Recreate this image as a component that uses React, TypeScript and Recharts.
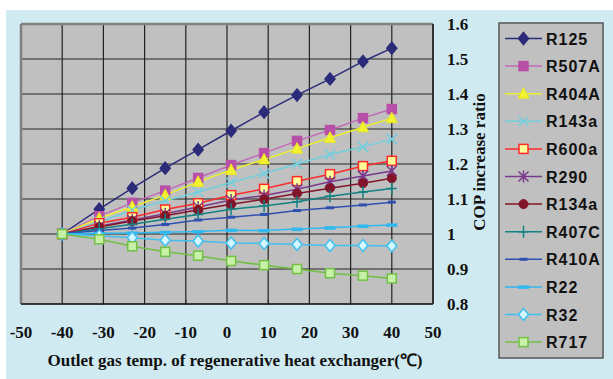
import React from "react"
import {
  LineChart,
  Line,
  XAxis,
  YAxis,
  CartesianGrid,
  ReferenceLine,
  Legend,
} from "recharts"

// outlet gas temp (°C)
const temps = [-40, -31, -23, -15, -7, 1, 9, 17, 25, 33, 40]

const r125 = [1, 1.071, 1.131, 1.188, 1.241, 1.295, 1.348, 1.397, 1.443, 1.493, 1.531]
const r507a = [1, 1.051, 1.089, 1.124, 1.16, 1.197, 1.231, 1.266, 1.297, 1.331, 1.357]
const r404a = [1, 1.045, 1.078, 1.111, 1.149, 1.183, 1.213, 1.244, 1.275, 1.305, 1.331]
const r143a = [1, 1.035, 1.068, 1.095, 1.12, 1.147, 1.173, 1.2, 1.227, 1.249, 1.271]
const r600a = [1, 1.031, 1.048, 1.07, 1.088, 1.111, 1.129, 1.151, 1.171, 1.194, 1.209]
const r290 = [1, 1.022, 1.04, 1.058, 1.077, 1.097, 1.11, 1.128, 1.149, 1.166, 1.18]
const r134a = [1, 1.02, 1.037, 1.052, 1.069, 1.085, 1.099, 1.116, 1.131, 1.145, 1.159]
const r407c = [1, 1.015, 1.028, 1.042, 1.056, 1.071, 1.08, 1.092, 1.108, 1.12, 1.13]
const r410a = [1, 1.01, 1.017, 1.027, 1.04, 1.048, 1.056, 1.067, 1.075, 1.083, 1.091]
const r22 = [1, 1.002, 1.003, 1.005, 1.007, 1.011, 1.01, 1.014, 1.018, 1.023, 1.026]
const r32 = [1, 0.995, 0.989, 0.982, 0.98, 0.974, 0.973, 0.97, 0.967, 0.967, 0.966]
const r717 = [1, 0.985, 0.965, 0.949, 0.938, 0.923, 0.911, 0.9, 0.888, 0.881, 0.873]

const xTicks = [-50, -40, -30, -20, -10, 0, 10, 20, 30, 40, 50]
const yTicks = [0.8, 0.9, 1.0, 1.1, 1.2, 1.3, 1.4, 1.5, 1.6]
const xMinor = [-48, -46, -44, -42, -38, -36, -34, -32, -28, -26, -24, -22, -18, -16, -14, -12, -8, -6, -4, -2, 2, 4, 6, 8, 12, 14, 16, 18, 22, 24, 26, 28, 32, 34, 36, 38, 42, 44, 46, 48]
const yMinor = [0.82, 0.84, 0.86, 0.88, 0.92, 0.94, 0.96, 0.98, 1.02, 1.04, 1.06, 1.08, 1.12, 1.14, 1.16, 1.18, 1.22, 1.24, 1.26, 1.28, 1.32, 1.34, 1.36, 1.38, 1.42, 1.44, 1.46, 1.48, 1.52, 1.54, 1.56, 1.58]

type Shape = "diamond" | "square" | "triangle" | "x" | "star" | "circle" | "plus" | "dash" | "bar"

interface Series {
  name: string
  values: number[]
  color: string
  shape: Shape
  fill: string
  stroke: string
}

const series: Series[] = [
  { name: "R125", values: r125, color: "#2b2b7a", shape: "diamond", fill: "#2b2b7a", stroke: "#2b2b7a" },
  { name: "R507A", values: r507a, color: "#c268b6", shape: "square", fill: "#b84fa8", stroke: "#b84fa8" },
  { name: "R404A", values: r404a, color: "#eeee30", shape: "triangle", fill: "#f2f230", stroke: "#e6e620" },
  { name: "R143a", values: r143a, color: "#72cfe0", shape: "x", fill: "none", stroke: "#72cfe0" },
  { name: "R600a", values: r600a, color: "#ff2a2a", shape: "square", fill: "#ffff99", stroke: "#ff2a2a" },
  { name: "R290", values: r290, color: "#7a3a8c", shape: "star", fill: "none", stroke: "#7a3a8c" },
  { name: "R134a", values: r134a, color: "#82142a", shape: "circle", fill: "#82142a", stroke: "#82142a" },
  { name: "R407C", values: r407c, color: "#128282", shape: "plus", fill: "none", stroke: "#128282" },
  { name: "R410A", values: r410a, color: "#3050b0", shape: "dash", fill: "#3050b0", stroke: "#3050b0" },
  { name: "R22", values: r22, color: "#30b8f0", shape: "bar", fill: "#30b8f0", stroke: "#30b8f0" },
  { name: "R32", values: r32, color: "#40c0f0", shape: "diamond", fill: "#d4f6ff", stroke: "#40c0f0" },
  { name: "R717", values: r717, color: "#72c044", shape: "square", fill: "#c8f0a8", stroke: "#72c044" },
]

const data = temps.map((t, i) => {
  const row: Record<string, number> = { x: t }
  series.forEach((s) => {
    row[s.name] = s.values[i]
  })
  return row
})

function Marker({ s, cx, cy }: { s: Series; cx: number; cy: number }) {
  const r = 5
  switch (s.shape) {
    case "diamond":
      return (
        <polygon
          points={`${cx},${cy - r - 1} ${cx + r},${cy} ${cx},${cy + r + 1} ${cx - r},${cy}`}
          fill={s.fill}
          stroke={s.stroke}
          strokeWidth={1.5}
        />
      )
    case "square":
      return <rect x={cx - 4.5} y={cy - 4.5} width={9} height={9} fill={s.fill} stroke={s.stroke} strokeWidth={1.5} />
    case "triangle":
      return (
        <polygon
          points={`${cx},${cy - 6} ${cx + 5.5},${cy + 4.5} ${cx - 5.5},${cy + 4.5}`}
          fill={s.fill}
          stroke={s.stroke}
          strokeWidth={1}
        />
      )
    case "x":
      return (
        <path
          d={`M${cx - r},${cy - r}L${cx + r},${cy + r}M${cx - r},${cy + r}L${cx + r},${cy - r}`}
          stroke={s.stroke}
          strokeWidth={1.5}
        />
      )
    case "star":
      return (
        <path
          d={`M${cx - r},${cy - r}L${cx + r},${cy + r}M${cx - r},${cy + r}L${cx + r},${cy - r}M${cx},${cy - r - 1}L${cx},${cy + r + 1}`}
          stroke={s.stroke}
          strokeWidth={1.5}
        />
      )
    case "circle":
      return <circle cx={cx} cy={cy} r={4.5} fill={s.fill} stroke={s.stroke} />
    case "plus":
      return (
        <path
          d={`M${cx - r},${cy}L${cx + r},${cy}M${cx},${cy - r - 1}L${cx},${cy + r + 1}`}
          stroke={s.stroke}
          strokeWidth={1.5}
        />
      )
    case "dash":
      return <rect x={cx - 4} y={cy - 1.5} width={8} height={3} fill={s.fill} />
    case "bar":
      return <rect x={cx - 5.5} y={cy - 1.5} width={11} height={3.5} fill={s.fill} />
  }
  return null
}

const serif = '"Liberation Serif", "Times New Roman", serif'
const sans = '"Liberation Sans", Arial, sans-serif'

function XTick({ x, y, payload }: any) {
  return (
    <text x={x} y={y + 34} textAnchor="middle" fontFamily={serif} fontWeight="bold" fontSize={17} fill="#111">
      {payload.value}
    </text>
  )
}

function YTick({ x, y, payload }: any) {
  return (
    <text x={x + 14} y={y + 6} textAnchor="start" fontFamily={serif} fontWeight="bold" fontSize={17} fill="#111">
      {Number(Number(payload.value).toFixed(1)).toString()}
    </text>
  )
}

function XMinorTick({ x, y }: any) {
  return <line x1={x} x2={x} y1={y} y2={y - 5} stroke="#222" strokeWidth={1} />
}

function YMinorTick({ x, y }: any) {
  return <line x1={x} x2={x - 5} y1={y} y2={y} stroke="#222" strokeWidth={1} />
}

function LegendBox() {
  return (
    <svg width={106} height={337} style={{ display: "block" }}>
      <rect x={1} y={1} width={104} height={335} fill="#c0c0c0" stroke="#555" strokeWidth={1.5} />
      {series.map((s, i) => {
        const cy = 16.5 + i * 27.6
        return (
          <g key={s.name}>
            <line x1={7} x2={44} y1={cy} y2={cy} stroke={s.color} strokeWidth={1.5} />
            <Marker s={s} cx={25.5} cy={cy} />
            <text x={48} y={cy + 6} fontFamily={sans} fontWeight="bold" fontSize={16} letterSpacing={1} fill="#111">
              {s.name}
            </text>
          </g>
        )
      })}
    </svg>
  )
}

export default function App() {
  return (
    <div style={{ position: "absolute", left: 0, top: 0, width: 613, height: 379, background: "#fff" }}>
      <div style={{ position: "absolute", left: 6, top: 10, right: 0, bottom: 0, background: "#cfeaf0" }} />
      <div style={{ position: "absolute", left: 0, top: 0 }}>
        <LineChart width={613} height={379} data={data} margin={{ top: 24, right: 178, bottom: 73, left: 21 }}>
          <CartesianGrid fill="#c0c0c0" stroke="#222" strokeWidth={1.2} fillOpacity={1} />
          <XAxis
            dataKey="x"
            type="number"
            domain={[-50, 50]}
            ticks={xTicks}
            interval={0}
            height={1}
            tickLine={false}
            tickSize={0}
            tickMargin={0}
            axisLine={{ stroke: "#222", strokeWidth: 1.5 }}
            tick={<XTick />}
          />
          <XAxis
            xAxisId="minor"
            type="number"
            domain={[-50, 50]}
            ticks={xMinor}
            interval={0}
            height={1}
            tickLine={false}
            tickSize={0}
            tickMargin={0}
            axisLine={false}
            tick={<XMinorTick />}
          />
          <YAxis
            orientation="right"
            type="number"
            domain={[0.8, 1.6]}
            ticks={yTicks}
            interval={0}
            width={1}
            tickLine={false}
            tickSize={0}
            tickMargin={0}
            axisLine={{ stroke: "#222", strokeWidth: 1.5 }}
            tick={<YTick />}
          />
          <YAxis
            yAxisId="minor"
            orientation="right"
            type="number"
            domain={[0.8, 1.6]}
            ticks={yMinor}
            interval={0}
            width={1}
            tickLine={false}
            tickSize={0}
            tickMargin={0}
            axisLine={false}
            tick={<YMinorTick />}
          />
          <ReferenceLine x={-50} stroke="#808080" strokeWidth={2.5} />
          <ReferenceLine y={1.6} stroke="#808080" strokeWidth={2.5} />
          {series.map((s) => (
            <Line
              key={s.name}
              dataKey={s.name}
              type="linear"
              stroke={s.color}
              strokeWidth={1.5}
              isAnimationActive={false}
              activeDot={false}
              dot={(p: any) => <Marker key={`${s.name}-${p.index}`} s={s} cx={p.cx} cy={p.cy} />}
            />
          ))}
          <Legend
            layout="vertical"
            align="center"
            verticalAlign="middle"
            wrapperStyle={{ left: 498, top: 22, width: 106, height: 337 }}
            content={() => <LegendBox />}
          />
          <text x={235} y={366} textAnchor="middle" fontFamily={serif} fontWeight="bold" fontSize={17} fill="#111">
            Outlet gas temp. of regenerative heat exchanger(℃)
          </text>
          <text
            x={485}
            y={162}
            textAnchor="middle"
            transform="rotate(-90 485 162)"
            fontFamily={serif}
            fontWeight="bold"
            fontSize={17}
            fill="#111"
          >
            COP increase ratio
          </text>
        </LineChart>
      </div>
    </div>
  )
}
